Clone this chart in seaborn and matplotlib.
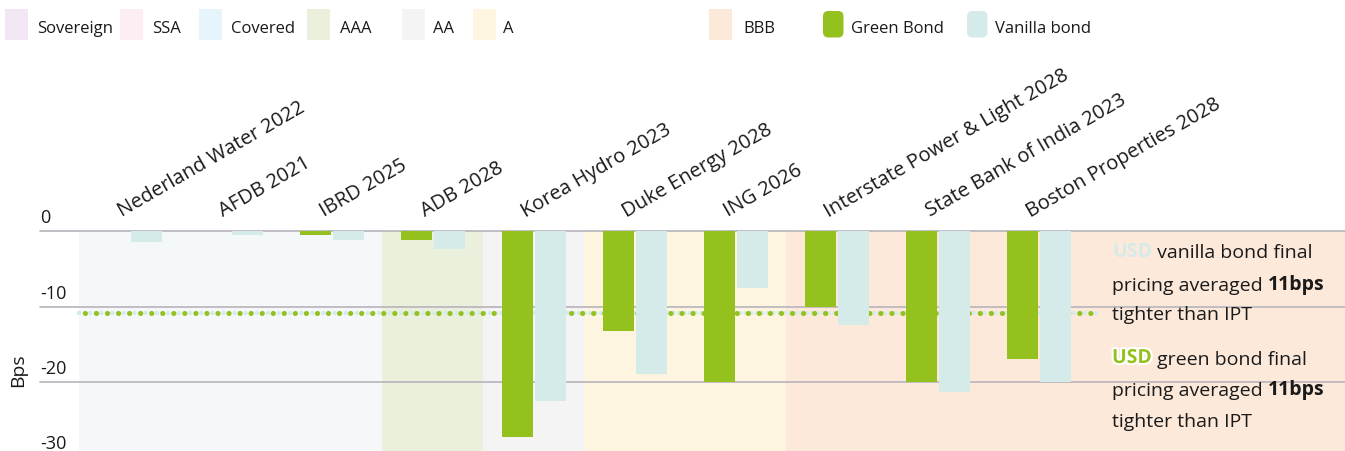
import numpy as np
import pandas as pd
import seaborn as sns
import matplotlib
matplotlib.use("Agg")
import matplotlib.pyplot as plt
from matplotlib.patches import Rectangle, FancyBboxPatch
from matplotlib.transforms import ScaledTranslation, blended_transform_factory
import matplotlib.patheffects as pe

# ---------------- data ----------------
bonds = ["Nederland Water 2022", "AFDB 2021", "IBRD 2025", "ADB 2028",
         "Korea Hydro 2023", "Duke Energy 2028", "ING 2026",
         "Interstate Power & Light 2028", "State Bank of India 2023",
         "Boston Properties 2028"]
ratings = ["Covered", "Covered", "Covered", "AAA", "AA", "A", "A", "BBB", "BBB", "BBB"]
green_bps = [0.0, 0.0, -0.5, -1.1, -27.4, -13.2, -20.0, -10.1, -20.0, -17.0]
vanilla_bps = [-1.4, -0.5, -1.1, -2.3, -22.6, -19.0, -7.5, -12.5, -21.3, -20.0]
avg_bps = -10.8
yticks = [0, -10, -20, -30]
legend_labels = ["Sovereign", "SSA", "Covered", "AAA", "AA", "A", "BBB",
                 "Green Bond", "Vanilla bond"]

# ---------------- styles ----------------
GREEN = "#95C11F"
VANILLA = "#D5EBEA"
TXT = "#1a1a1a"
legend_colors = ["#F2E6F4", "#FDEEF3", "#E6F4FC", "#EAF0DB", "#F4F4F4",
                 "#FEF6E0", "#FDE9DA", GREEN, VANILLA]
bg_colors = {"Covered": "#F4F8F9", "AAA": "#EAF0DB", "AA": "#F4F4F4",
             "A": "#FDF5E0", "BBB": "#FDE9DA"}

sns.set_theme(style="white")
plt.rcParams["font.family"] = ["Open Sans", "DejaVu Sans"]

W, H = 1345, 452
fig = plt.figure(figsize=(W / 100, H / 100), dpi=100)
fig.patch.set_facecolor("white")

ax_left, ax_right, ax_top, ax_bot = 40, 1345, 232.3, 452
ax = fig.add_axes([ax_left / W, 1 - ax_bot / H, (ax_right - ax_left) / W, (ax_bot - ax_top) / H])

df = pd.DataFrame({
    "bond": bonds * 2,
    "type": ["Green Bond"] * len(bonds) + ["Vanilla bond"] * len(bonds),
    "bps": green_bps + vanilla_bps,
})
sns.barplot(data=df, x="bond", y="bps", hue="type", order=bonds,
            hue_order=["Green Bond", "Vanilla bond"],
            palette={"Green Bond": GREEN, "Vanilla bond": VANILLA},
            width=0.653, gap=0.06, saturation=1, errorbar=None,
            legend=False, ax=ax, zorder=3, linewidth=0, edgecolor="none")

xmin, xmax = -0.891, 12.03
ax.set_xlim(xmin, xmax)
ax.set_ylim(-29.2, 0)
ax.set_xticks([])
ax.set_yticks([])
ax.set_xlabel("")
ax.set_ylabel("")
for s in ax.spines.values():
    s.set_visible(False)
ax.set_facecolor("white")

# rating background bands
for r in dict.fromkeys(ratings):
    pos = [i for i, rr in enumerate(ratings) if rr == r]
    start = pos[0] - 0.5
    end = pos[-1] + 0.5 if r != ratings[-1] else xmax
    ax.axvspan(start, end, color=bg_colors[r], lw=0, zorder=0)

# gridlines + tick labels
yt_trans = blended_transform_factory(ax.transAxes, ax.transData) + \
    ScaledTranslation(0, 9 / 100, fig.dpi_scale_trans)
for t in yticks:
    ax.axhline(t, color="#B8B3BB", lw=1.2, zorder=1, clip_on=False)
    ax.text(0, t, f"{t}", transform=yt_trans, ha="left", va="baseline",
            fontsize=13, color=TXT, clip_on=False)

# average line (vanilla + green dotted)
avg_x = [-0.5, 9.57]
ax.plot(avg_x, [avg_bps, avg_bps], color=VANILLA, lw=3.2,
        linestyle=(0, (0.01, 1.24)), dash_capstyle="round", zorder=2)
ax.plot(avg_x, [avg_bps, avg_bps], color=GREEN, lw=3.7,
        linestyle=(1.0, (0.01, 2.14)), dash_capstyle="round", zorder=2.1)

# category labels
lab_trans = ax.transData + ScaledTranslation(-8 / 100, 15 / 100, fig.dpi_scale_trans)
for i, b in enumerate(bonds):
    ax.text(i, 0, b, transform=lab_trans, rotation=30, rotation_mode="anchor",
            ha="left", va="baseline", fontsize=14.5, color=TXT, clip_on=False)

# y label
fig.text(18 / W, 1 - 370 / H, "Bps", rotation=90, ha="center", va="center",
         fontsize=14, color=TXT)

# annotation text
def rich_line(x_px, base_px, pieces, size=14):
    prev = None
    for txt, color, bold, stroke in pieces:
        kw = dict(fontsize=size, color=color, fontweight="bold" if bold else "normal",
                  ha="left", va="bottom")
        if prev is None:
            t = fig.text(x_px / W, 1 - (base_px + 5) / H, txt, **kw)
        else:
            t = ax.annotate(txt, xy=(1, 0), xycoords=prev, annotation_clip=False, **kw)
        if stroke:
            t.set_path_effects([pe.withStroke(linewidth=3, foreground="white")])
        prev = t

ann_x = 1112
rich_line(ann_x, 257, [("USD", VANILLA, True, False), (" vanilla bond final", TXT, False, False)])
rich_line(ann_x, 290, [("pricing averaged ", TXT, False, False), ("11bps", TXT, True, False)])
rich_line(ann_x, 319, [("tighter than IPT", TXT, False, False)])
rich_line(ann_x, 364, [("USD", GREEN, True, True), (" green bond final", TXT, False, False)])
rich_line(ann_x, 395, [("pricing averaged ", TXT, False, False), ("11bps", TXT, True, False)])
rich_line(ann_x, 426, [("tighter than IPT", TXT, False, False)])

# legend
patch_x = [5, 120, 199, 307, 402, 473, 709, 823, 967]
text_x = [37, 152, 231, 340, 433, 503, 743, 851, 995]
for lab, col, px, tx in zip(legend_labels, legend_colors, patch_x, text_x):
    if lab in ("Green Bond", "Vanilla bond"):
        p = FancyBboxPatch((px / W, 1 - 38.5 / H), 20.5 / W, 26.5 / H,
                           boxstyle="round,pad=0,rounding_size=0.004",
                           transform=fig.transFigure, facecolor=col, edgecolor="none",
                           mutation_aspect=W / H)
    else:
        p = Rectangle((px / W, 1 - 40.7 / H), 23 / W, 30.7 / H,
                      transform=fig.transFigure, facecolor=col, edgecolor="none")
    fig.add_artist(p)
    fig.text(tx / W, 1 - 33 / H, lab, ha="left", va="baseline",
             fontsize=12, color=TXT)

fig.savefig("out.png", dpi=100, facecolor="white")
